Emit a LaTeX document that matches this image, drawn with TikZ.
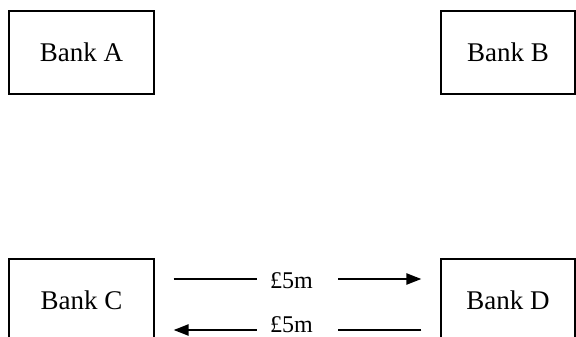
\documentclass[tikz,border=0pt]{standalone}
\usepackage{fontspec}
\setmainfont{Liberation Serif}
\usetikzlibrary{arrows.meta}
\begin{document}
\begin{tikzpicture}[x=1pt,y=-1pt,
  bank/.style={draw, line width=1.2pt, minimum width=145pt, minimum height=83pt, inner sep=0pt, font=\fontsize{27}{32}\selectfont},
  flow/.style={line width=2.4pt, shorten <=19pt, shorten >=19pt},
  tip/.style={-{Triangle[length=15pt,width=11pt]}},
  lbl/.style={fill=white, inner sep=0pt, minimum width=81pt, minimum height=14pt, font=\fontsize{24}{28}\selectfont}]
\useasboundingbox (0,0) rectangle (576,337);
\clip (0,0) rectangle (576,337);
\node[bank] (A) at (81.5,52.5) {Bank A};
\node[bank, minimum width=134pt] (B) at (508,52.5) {Bank B};
\node[bank] (C) at (81.5,300.5) {Bank C};
\node[bank, minimum width=134pt] (D) at (508,300.5) {Bank D};
\draw[flow, tip] ([yshift=21.5pt]C.east) -- node[lbl, yshift=-2pt]{\hspace*{-12pt}£5m} ([yshift=21.5pt]D.west);
\draw[flow, tip] ([yshift=-29.5pt]D.west) -- node[lbl, yshift=5pt]{\hspace*{-12pt}£5m} ([yshift=-29.5pt]C.east);
\end{tikzpicture}
\end{document}
